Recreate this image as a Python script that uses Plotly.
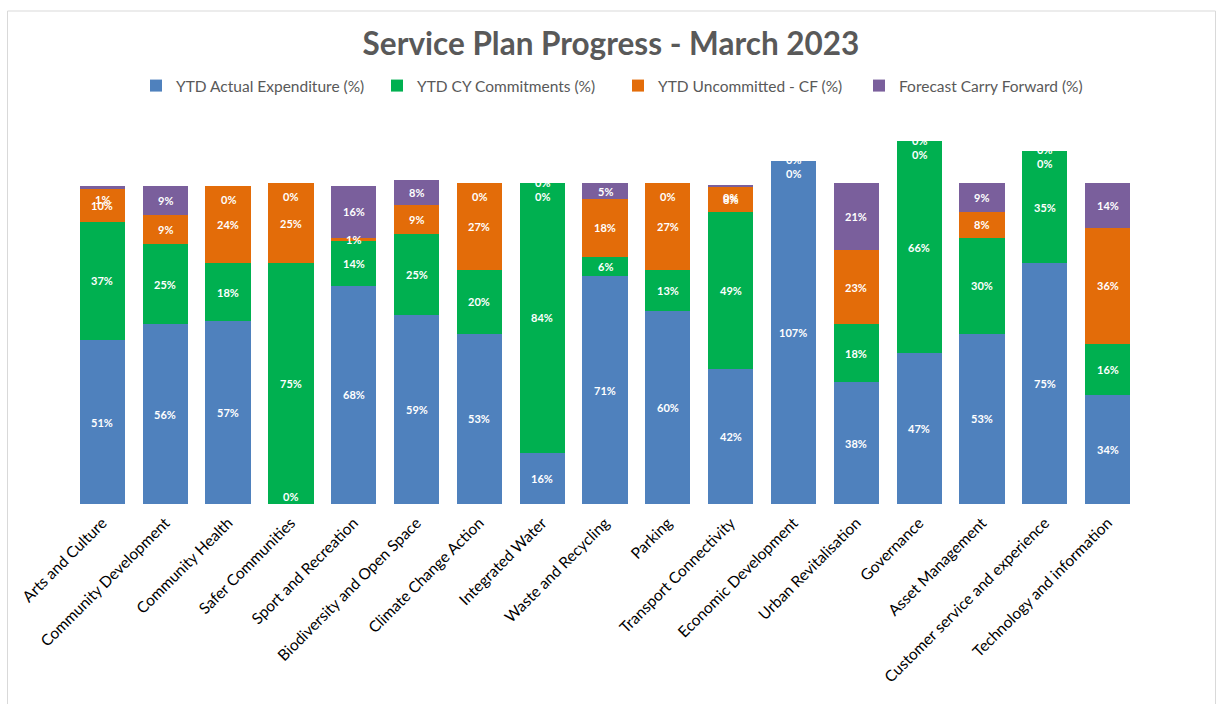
import plotly.graph_objects as go

categories = ["Arts and Culture", "Community Development", "Community Health", "Safer Communities",
              "Sport and Recreation", "Biodiversity and Open Space", "Climate Change Action",
              "Integrated Water", "Waste and Recycling", "Parking", "Transport Connectivity",
              "Economic Development", "Urban Revitalisation", "Governance", "Asset Management",
              "Customer service and experience", "Technology and information"]

actual_exp = [51, 56, 57, 0, 68, 59, 53, 16, 71, 60, 42, 107, 38, 47, 53, 75, 34]
cy_commit = [37, 25, 18, 75, 14, 25, 20, 84, 6, 13, 49, 0, 18, 66, 30, 35, 16]
uncommitted = [10, 9, 24, 25, 1, 9, 27, 0, 18, 27, 8, 0, 23, 0, 8, 0, 36]
carry_fwd = [1, 9, 0, 0, 16, 8, 0, 0, 5, 0, 0.4, 0, 21, 0, 9, 0, 14]

series_names = ["YTD Actual Expenditure (%)", "YTD CY Commitments (%)",
                "YTD Uncommitted - CF (%)", "Forecast Carry Forward (%)"]
series_vals = [actual_exp, cy_commit, uncommitted, carry_fwd]
colors = ["#4F81BD", "#00B050", "#E36C09", "#7A5F9C"]

FONT = "Lato"

fig = go.Figure()
for name, vals, col in zip(series_names, series_vals, colors):
    fig.add_trace(go.Bar(x=categories, y=vals, name=name, marker_color=col,
                         marker_line_width=0, hoverinfo="skip"))

# data labels (annotations anchored to data coordinates)
annotations = []
for i, cat in enumerate(categories):
    vals = [s[i] for s in series_vals]
    total = sum(vals)
    base = 0
    top_count = 0
    for v in vals:
        txt = f"<b>{round(v):.0f}%</b>"
        yshift = 0
        if v >= 2.5:
            y = base + v / 2
        elif base == 0 and v < 1:
            y = 0
            yshift = 8
        elif base + v >= total - 2.5:
            y = total
            yshift = [-13, 1, 16][min(top_count, 2)]
            top_count += 1
        else:
            y = base + v / 2
        annotations.append(dict(x=cat, y=y, xref="x", yref="y", text=txt, showarrow=False,
                                yshift=yshift, yanchor="middle", xanchor="center",
                                font=dict(color="white", size=11, family=FONT)))
        base += v

W, L, R, T, B = 1219, 71, 80, 130, 200
pw = W - L - R
ph = 704 - T - B

fig.update_layout(
    width=1219, height=704,
    barmode="stack", bargap=0.28,
    margin=dict(l=L, r=R, t=T, b=B, autoexpand=False),
    paper_bgcolor="white", plot_bgcolor="white",
    font=dict(family=FONT, color="#595959"),
    title=dict(text="<b>Service Plan Progress - March 2023</b>", x=611 / W, xanchor="center",
               y=1 - 44 / 704, yanchor="middle", font=dict(size=31.5, color="#595959", family=FONT)),
    legend=dict(orientation="h", x=(618 - L) / pw, xanchor="center", y=(504 - 86) / ph,
                yanchor="middle", font=dict(size=15.5, color="#595959", family=FONT),
                itemwidth=30, traceorder="normal", entrywidth=196, entrywidthmode="pixels"),
    xaxis=dict(tickangle=-45, tickfont=dict(size=15.5, color="black", family=FONT),
               showline=False, showgrid=False, ticks="", automargin=False,
               ticklabelstandoff=6),
    yaxis=dict(visible=False, range=[0, ph / 3.21], showgrid=False, automargin=False),
    annotations=annotations,
    shapes=[dict(type="rect", xref="paper", yref="paper",
                 x0=(7.5 - L) / pw, x1=(1215.5 - L) / pw,
                 y0=(504 - 712) / ph, y1=(504 - 11) / ph,
                 line=dict(color="#D9D9D9", width=1), fillcolor="rgba(0,0,0,0)", layer="below")],
)

fig.write_html("out.html")
